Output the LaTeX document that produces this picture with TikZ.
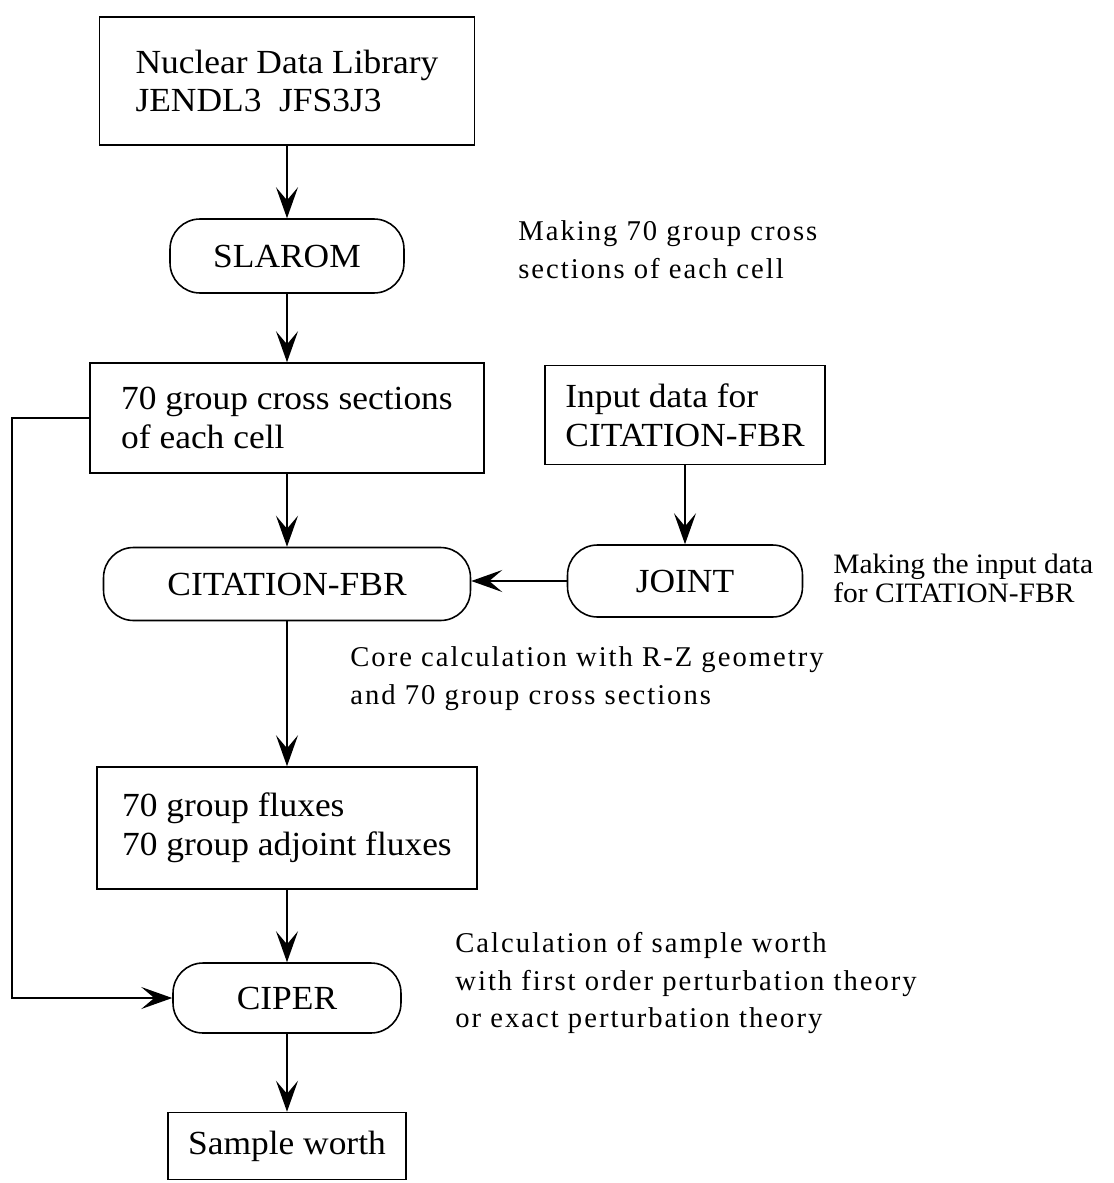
\documentclass[tikz,border=0pt]{standalone}
\usepackage{fontspec}
\setmainfont{Liberation Serif}[FakeStretch=1.05]
\newfontfamily\notefont{Liberation Serif}[LetterSpace=7]
\usetikzlibrary{arrows.meta}

\newcommand{\chartfont}{\fontsize{19.2}{22}\selectfont}
\newcommand{\remarkfont}{\notefont\fontsize{16.3}{21.5}\selectfont}
\newcommand{\sideremark}{\fontsize{16}{16.5}\selectfont}

\begin{document}
\begin{tikzpicture}[x=0.02cm, y=-0.02cm,
    blk/.style={draw, line width=0.9pt, rectangle, align=left, font=\chartfont, inner sep=0pt},
    prog/.style={draw, line width=0.9pt, rectangle, rounded corners=0.6cm, align=center, font=\chartfont, inner sep=0pt},
    remark/.style={anchor=west, align=left, inner sep=0pt, font=\remarkfont},
    arr/.style={line width=0.9pt, -{Stealth[length=0.62cm, width=0.44cm, inset=0.26cm]}}]
    \useasboundingbox (0,0) rectangle (1113,1183);
    % Library
    \node[blk, minimum width=7.5cm, minimum height=2.56cm] (lib) at (287, 81) {Nuclear Data Library\\JENDL3\ \ JFS3J3};
    % SLAROM
    \node[prog, minimum width=4.68cm, minimum height=1.48cm] (slarom) at (287, 256) {SLAROM};
    \node[remark] (note1) at (518, 250) {Making 70 group cross\\sections of each cell};
    % Cross sections
    \node[blk, minimum width=7.88cm, minimum height=2.2cm] (xs) at (287, 418) {70 group cross sections\\of each cell};
    % Input data
    \node[blk, minimum width=5.6cm, minimum height=1.98cm] (input) at (685, 415) {Input data for\\CITATION-FBR};
    % CITATION-FBR and JOINT
    \node[prog, minimum width=7.34cm, minimum height=1.46cm] (citation) at (287, 584) {CITATION-FBR};
    \node[prog, minimum width=4.7cm, minimum height=1.44cm] (joint) at (685, 581) {JOINT};
    \node[remark, font=\sideremark] (note2) at (833, 578) {Making the input data\\for CITATION-FBR};
    \node[remark] (note3) at (350, 679) {Core calculation with R-Z geometry\\and 70 group cross sections};
    % Fluxes
    \node[blk, minimum width=7.6cm, minimum height=2.44cm] (flux) at (287, 828) {70 group fluxes\\70 group adjoint fluxes};
    % CIPER
    \node[prog, minimum width=4.56cm, minimum height=1.4cm] (ciper) at (287, 998) {CIPER};
    \node[remark] (note4) at (455, 983) {Calculation of sample worth\\with first order perturbation theory\\or exact perturbation theory};
    % Result
    \node[blk, align=center, minimum width=4.76cm, minimum height=1.34cm] (worth) at (287, 1146) {Sample worth};

    % Arrows
    \draw[arr] (lib) -- (slarom);
    \draw[arr] (slarom) -- (xs);
    \draw[arr] (xs) -- (citation);
    \draw[arr] (input) -- (joint);
    \draw[arr] (joint.west) -- (joint.west -| citation.east);
    \draw[arr] (citation) -- (flux);
    \draw[arr] (flux) -- (ciper);
    \draw[arr] (ciper) -- (worth);
    \coordinate (corner) at (12, 418);
    \draw[arr] (xs.west) -- (corner) |- (ciper.west);
\end{tikzpicture}
\end{document}
